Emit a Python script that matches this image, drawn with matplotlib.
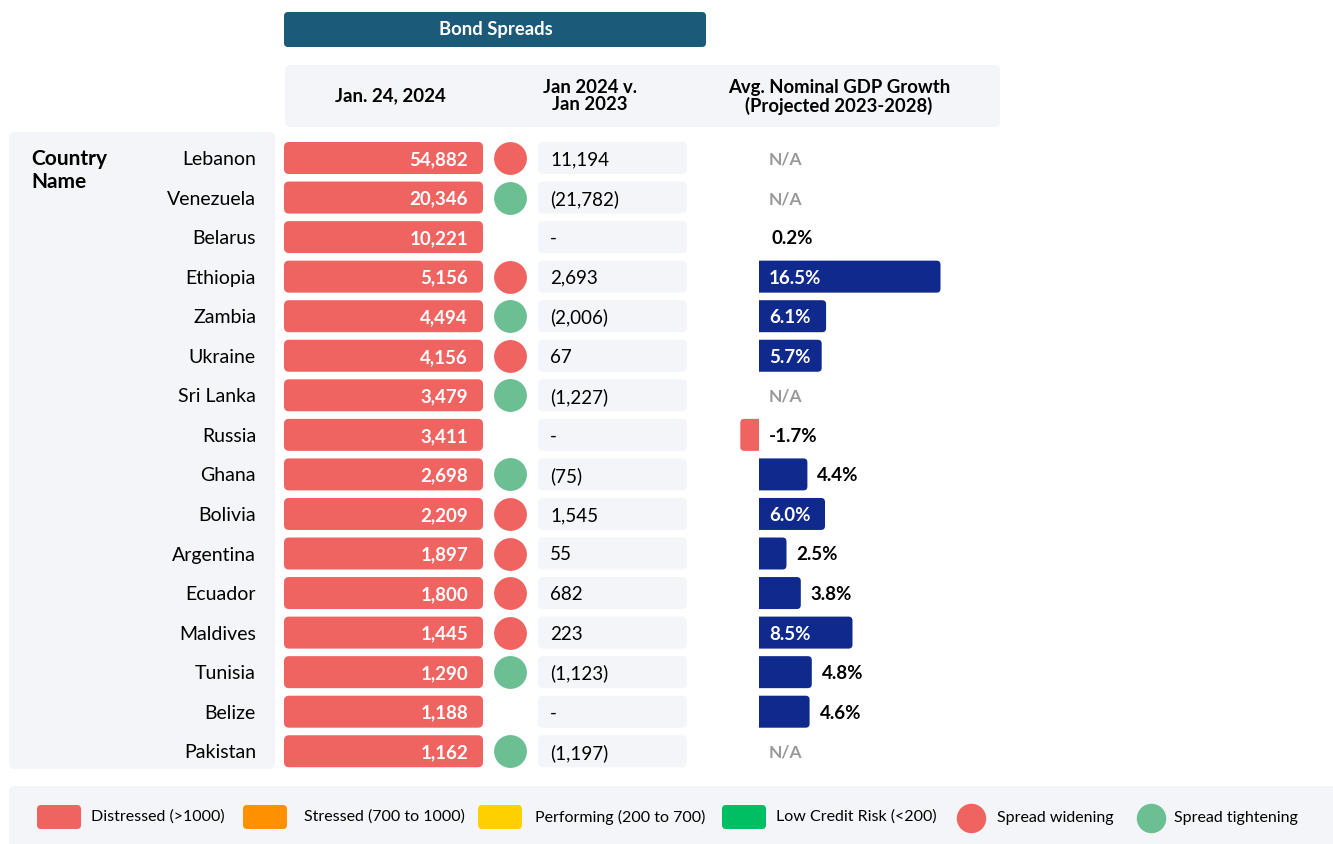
import matplotlib.pyplot as plt
from matplotlib.patches import FancyBboxPatch, Rectangle

countries = ['Lebanon', 'Venezuela', 'Belarus', 'Ethiopia', 'Zambia', 'Ukraine',
             'Sri Lanka', 'Russia', 'Ghana', 'Bolivia', 'Argentina', 'Ecuador',
             'Maldives', 'Tunisia', 'Belize', 'Pakistan']
spreads = [54882, 20346, 10221, 5156, 4494, 4156, 3479, 3411, 2698, 2209,
           1897, 1800, 1445, 1290, 1188, 1162]
spread_change = [11194, -21782, None, 2693, -2006, 67, -1227, None, -75, 1545,
                 55, 682, 223, -1123, None, -1197]
gdp_growth = [None, None, 0.2, 16.5, 6.1, 5.7, None, -1.7, 4.4, 6.0, 2.5, 3.8,
              8.5, 4.8, 4.6, None]

legend_labels = ['Distressed (>1000)', 'Stressed (700 to 1000)',
                 'Performing (200 to 700)', 'Low Credit Risk (<200)']

RED = '#EF6461'
ORANGE = '#FF9100'
YELLOW = '#FFD000'
LOWRISK = '#00BF63'
WIDEN = '#EF6461'
TIGHT = '#6BBF92'
NAVY = '#10298C'
TEAL = '#1B5A79'
PANEL = '#F4F5F9'

plt.rcParams['font.family'] = ['Lato', 'DejaVu Sans']

W, H = 1333, 844
ROW0, STEP = 158, 39.55   # pixel centre of first row, row pitch
GDP0, GDP_PX = 759, 11.0  # pixel of zero growth, pixels per percent


def category_color(v):
    if v > 1000:
        return RED
    if v > 700:
        return ORANGE
    if v > 200:
        return YELLOW
    return LOWRISK


def fmt_change(v):
    if v is None:
        return '-'
    if v < 0:
        return '({:,})'.format(-v)
    return '{:,}'.format(v)


fig = plt.figure(figsize=(W / 100, H / 100), dpi=100)


def full_axes(z):
    ax = fig.add_axes([0, 0, 1, 1], zorder=z)
    ax.set_axis_off()
    ax.patch.set_alpha(0)
    return ax


def rbox(ax, x0, y0, w, h, color, r, aspect=1.0, z=1):
    p = FancyBboxPatch((x0, y0), w, h,
                       boxstyle='round,pad=0,rounding_size=%s' % r,
                       mutation_aspect=aspect, fc=color, ec='none', zorder=z)
    ax.add_patch(p)
    return p


# background / layout axes in pixels
bg = full_axes(0)
bg.set_xlim(0, W)
bg.set_ylim(H, 0)

# table axes: x in pixels, y in rows
tab = full_axes(1)
tab.set_xlim(0, W)
tab.set_ylim((H - ROW0) / STEP, -ROW0 / STEP)
asp_tab = 1 / STEP

# gdp axes: x in percent, y in rows
gdp = full_axes(2)
gdp.set_xlim(-GDP0 / GDP_PX, (W - GDP0) / GDP_PX)
gdp.set_ylim((H - ROW0) / STEP, -ROW0 / STEP)
asp_gdp = GDP_PX / STEP

# panels and headers
rbox(bg, 284, 12, 422, 35, TEAL, 4)
bg.text(496, 30, 'Bond Spreads', color='white', fontsize=13.3,
        fontweight='bold', ha='center', va='center')
rbox(bg, 285, 65, 715, 62, PANEL, 6)
bg.text(390, 96, 'Jan. 24, 2024', fontsize=13.5, fontweight='bold',
        ha='center', va='center')
bg.text(590, 96, 'Jan 2024 v.\nJan 2023', fontsize=13.3, fontweight='bold',
        ha='center', va='center', linespacing=1.0)
bg.text(839, 97, 'Avg. Nominal GDP Growth\n(Projected 2023-2028)',
        fontsize=13.3, fontweight='bold', ha='center', va='center',
        linespacing=1.0)
rbox(bg, 9, 132, 266, 637, PANEL, 6)
bg.text(31, 149, 'Country\nName', fontsize=15, fontweight='bold',
        ha='left', va='top', linespacing=1.2)

# rows
h = 32 / STEP
pad = 10 / GDP_PX
r_gdp = 4 / GDP_PX
for i, name in enumerate(countries):
    tab.text(256, i, name, fontsize=14, ha='right', va='center_baseline')

    rbox(tab, 284, i - h / 2, 199, h, category_color(spreads[i]), 5, asp_tab)
    tab.text(468, i, '{:,}'.format(spreads[i]), color='white', fontsize=13.5,
             fontweight='bold', ha='right', va='center_baseline', zorder=3)

    c = spread_change[i]
    if c is not None:
        tab.scatter(510, i, s=560, color=WIDEN if c > 0 else TIGHT,
                    linewidths=0, zorder=3)
    rbox(tab, 538, i - h / 2, 149, h, PANEL, 5, asp_tab)
    tab.text(550, i, fmt_change(c), fontsize=13.5, ha='left',
             va='center_baseline', zorder=3)

    g = gdp_growth[i]
    if g is None:
        gdp.text(pad, i, 'N/A', color='#999999', fontsize=12.5,
                 fontweight='bold', ha='left', va='center_baseline')
        continue
    col = NAVY if g >= 0 else RED
    if abs(g) >= 0.5:
        # rounded on the far end only: extend past zero and clip at zero
        if g >= 0:
            bar = rbox(gdp, -2 * r_gdp, i - h / 2, g + 2 * r_gdp, h, col,
                       r_gdp, asp_gdp)
            clip = Rectangle((0, i - h), g + 1, 2 * h, transform=gdp.transData)
        else:
            bar = rbox(gdp, g, i - h / 2, -g + 2 * r_gdp, h, col, r_gdp,
                       asp_gdp)
            clip = Rectangle((g - 1, i - h), -g + 1, 2 * h,
                             transform=gdp.transData)
        bar.set_clip_path(clip)
    if g > 5:
        gdp.text(pad, i, '%.1f%%' % g, color='white', fontsize=13.5,
                 fontweight='bold', ha='left', va='center_baseline', zorder=3)
    else:
        gdp.text(max(g, 0) + pad, i, '%.1f%%' % g, color='black',
                 fontsize=13.5, fontweight='bold', ha='left',
                 va='center_baseline', zorder=3)

# legend
rbox(bg, 9, 786, 1340, 80, PANEL, 6)
sq_x = [37, 243, 478, 722]
txt_x = [91, 304, 535, 776]
for lab, col, sx, tx in zip(legend_labels, [RED, ORANGE, YELLOW, LOWRISK],
                            sq_x, txt_x):
    rbox(bg, sx, 805, 44, 24, col, 4, z=2)
    bg.text(tx, 817, lab, fontsize=11.5, ha='left', va='center', zorder=3)
for cx, tx, col, lab in [(971, 997, WIDEN, 'Spread widening'),
                         (1151, 1174, TIGHT, 'Spread tightening')]:
    bg.scatter(cx, 818, s=450, color=col, linewidths=0, zorder=3)
    bg.text(tx, 818, lab, fontsize=11.5, ha='left', va='center', zorder=3)

fig.savefig('out.png', dpi=100, facecolor='white')
